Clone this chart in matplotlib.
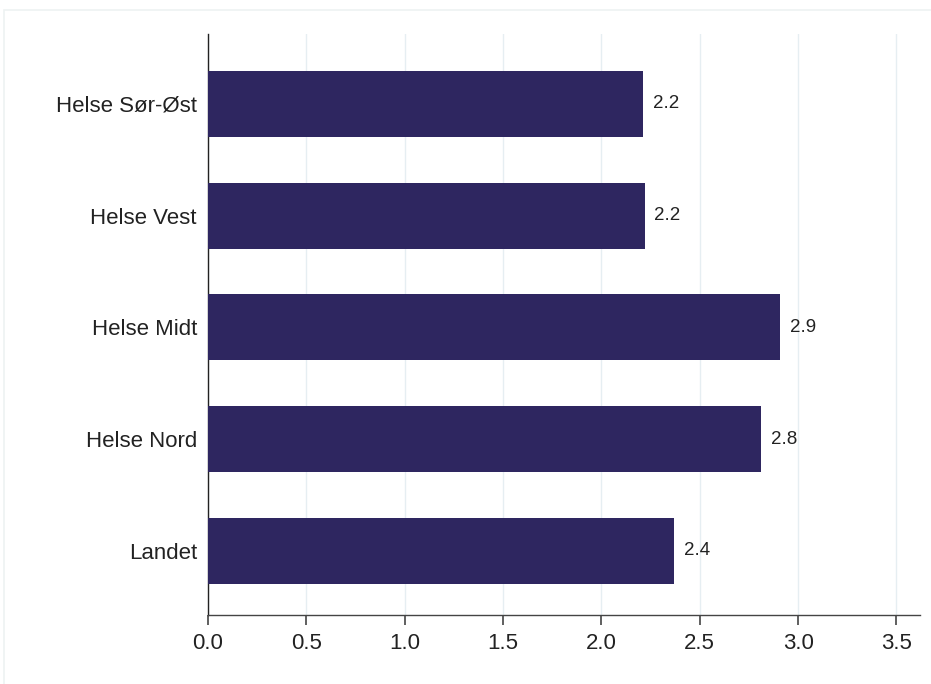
import matplotlib.pyplot as plt
from matplotlib.patches import Rectangle

regions = ["Helse Sør-Øst", "Helse Vest", "Helse Midt", "Helse Nord", "Landet"]
values = [2.21, 2.22, 2.91, 2.81, 2.37]
value_labels = ["2.2", "2.2", "2.9", "2.8", "2.4"]
xticks = [0.0, 0.5, 1.0, 1.5, 2.0, 2.5, 3.0, 3.5]

plt.rcParams["font.family"] = ["Liberation Sans", "DejaVu Sans"]

fig = plt.figure(figsize=(9.31, 6.84), dpi=100)
ax = fig.add_axes([208 / 931, 1 - 615 / 684, (920 - 208) / 931, (615 - 34) / 684])

# faint frame (top and left edges only visible)
fig.patches.append(Rectangle((4 / 931, -0.1), 1.2, 1.1 - 10 / 684, transform=fig.transFigure,
                             fill=False, edgecolor="#eef2f2", linewidth=1.2))

ypos = list(range(len(regions)))[::-1]
ax.barh(ypos, values, height=0.59, color="#2e2660", zorder=3)

for y, v, lab in zip(ypos, values, value_labels):
    ax.text(v + 0.05, y, lab, va="center", ha="left", fontsize=13.5, color="#222222")

ax.set_xlim(0, 3.62)
ax.set_ylim(-0.573, 4.626)
ax.set_xticks(xticks)
ax.set_xticklabels([f"{t:.1f}" for t in xticks])
ax.set_yticks(ypos)
ax.set_yticklabels(regions)

ax.grid(axis="x", color="#e6eef2", linewidth=1.0, zorder=0)
ax.set_axisbelow(True)

for s in ["top", "right"]:
    ax.spines[s].set_visible(False)
ax.spines["left"].set_color("#222222")
ax.spines["bottom"].set_color("#444444")
ax.spines["left"].set_linewidth(1.0)
ax.spines["bottom"].set_linewidth(1.0)

ax.tick_params(axis="x", length=7, width=1.2, color="#444444", labelsize=16, pad=6, labelcolor="#222222")
ax.tick_params(axis="y", length=0, labelsize=16, pad=8, labelcolor="#222222")

fig.savefig("out.png", dpi=100)
